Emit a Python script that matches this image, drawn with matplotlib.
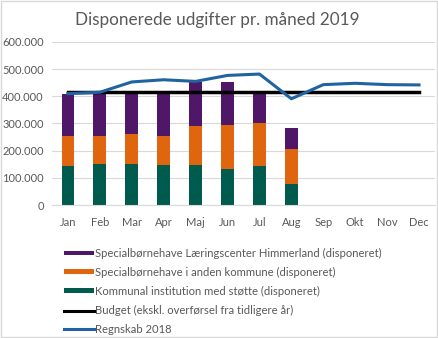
import matplotlib.pyplot as plt
import numpy as np
from matplotlib.patches import Patch
from matplotlib.lines import Line2D
from matplotlib.ticker import FuncFormatter

plt.rcParams['font.family'] = ['Lato', 'DejaVu Sans']

months = ['Jan', 'Feb', 'Mar', 'Apr', 'Maj', 'Jun', 'Jul', 'Aug', 'Sep', 'Okt', 'Nov', 'Dec']
kommunal = [142000, 151000, 151000, 146000, 148000, 134000, 142000, 79000]
anden = [111000, 102000, 112000, 109000, 144000, 159000, 161000, 126000]
himmerland = [157000, 159000, 149000, 157000, 160000, 159000, 113000, 80000]
budget = [416000] * 12
regnskab = [410000, 415000, 453000, 461000, 455000, 477000, 482000, 391000,
            443000, 448000, 443000, 442000]

c_green = '#005A4E'
c_orange = '#E0650F'
c_purple = '#4F1767'
c_blue = '#1F64A0'
grey = '#595959'

fig = plt.figure(figsize=(4.38, 3.38), dpi=100)
ax = fig.add_axes([52 / 438, 1 - 205 / 338, (435 - 52) / 438, (205 - 42) / 338])

x = np.arange(len(months))
n = len(kommunal)
w = 0.4
ax.bar(x[:n], kommunal, w, color=c_green, zorder=2)
ax.bar(x[:n], anden, w, bottom=kommunal, color=c_orange, zorder=2)
bot2 = np.array(kommunal) + np.array(anden)
ax.bar(x[:n], himmerland, w, bottom=bot2, color=c_purple, zorder=2)
ax.plot(x, budget, color='black', lw=2.5, zorder=3)
ax.plot(x, regnskab, color=c_blue, lw=2.2, zorder=4)

ax.set_xlim(-0.5, 11.5)
ax.set_ylim(0, 600000)
ax.set_yticks(np.arange(0, 600001, 100000))
ax.yaxis.set_major_formatter(FuncFormatter(lambda v, p: f'{int(v):,}'.replace(',', '.')))
ax.set_xticks(x)
ax.set_xticklabels(months)
ax.grid(axis='y', color='#D9D9D9', lw=0.8, zorder=0)
for s in ['top', 'right', 'left']:
    ax.spines[s].set_visible(False)
ax.spines['bottom'].set_color('#D9D9D9')
ax.tick_params(length=0, labelsize=8, labelcolor=grey, pad=6)
ax.tick_params(axis='x', pad=9)

fig.text(0.497, 1 - 20 / 338, 'Disponerede udgifter pr. måned 2019', ha='center', va='center',
         fontsize=12.3, color=grey)

handles = [
    Patch(facecolor=c_purple, edgecolor='none', label='Specialbørnehave Læringscenter Himmerland (disponeret)'),
    Patch(facecolor=c_orange, edgecolor='none', label='Specialbørnehave i anden kommune (disponeret)'),
    Patch(facecolor=c_green, edgecolor='none', label='Kommunal institution med støtte (disponeret)'),
    Line2D([], [], color='black', lw=2.2, label='Budget (ekskl. overførsel fra tidligere år)'),
    Line2D([], [], color=c_blue, lw=2.2, label='Regnskab 2018'),
]
fig.legend(handles=handles, loc='upper left', bbox_to_anchor=(64 / 438, 1 - 248 / 338),
           frameon=False, fontsize=8.1, labelcolor=grey, handlelength=2.7, handleheight=0.3,
           handletextpad=0.05, labelspacing=0.7, borderaxespad=0, borderpad=0)

fig.patches.append(plt.Rectangle((0.002, 0.002), 0.995, 0.995, transform=fig.transFigure,
                                 fill=False, edgecolor='#D9D9D9', lw=1))

fig.savefig('out.png', dpi=100)
